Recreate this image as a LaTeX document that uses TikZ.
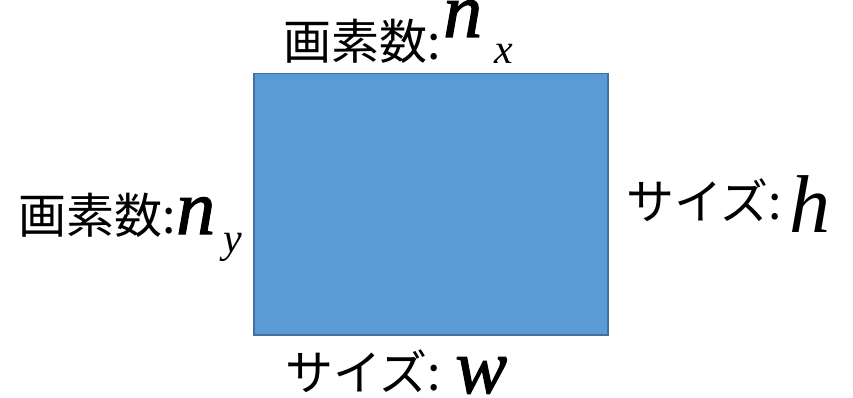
\documentclass[tikz,border=0pt]{standalone}
\usepackage{fontspec}
\newfontfamily\cjk{Noto Sans CJK JP}
\newfontfamily\mathserif{Liberation Serif}
\newfontfamily\mathserifb[FakeBold=1.4]{Liberation Serif}
\definecolor{boxfill}{HTML}{5B9BD5}
\definecolor{boxline}{HTML}{41719C}
\begin{document}
\begin{tikzpicture}[x=1pt,y=-1pt,
  lbl/.style={inner sep=0pt,anchor=base west},
  jp/.style={lbl,font=\cjk\fontsize{48}{48}\selectfont},
  bigvar/.style={lbl,font=\mathserifb\itshape\fontsize{78}{78}\selectfont},
  bigvarr/.style={lbl,font=\mathserif\itshape\fontsize{82}{82}\selectfont},
  subvar/.style={lbl,font=\mathserif\itshape\fontsize{42}{42}\selectfont}]
\useasboundingbox (0,0) rectangle (853,398);
\node[draw=boxline,fill=boxfill,line width=1.5pt,minimum width=354pt,minimum height=261pt,inner sep=0pt,anchor=north west] (box) at (253,73) {};
% top
\node[jp] (tj) at (283,60) {画素数:};
\node[bigvar] (tn) at (443,37) {n};
\node[subvar] (tx) at (494,64) {x};
% left
\node[jp] (lj) at (18,233) {画素数:};
\node[bigvar] (ln) at (176,234) {n};
\node[subvar] (ly) at (223,252) {y};
% right
\node[jp] (rj) at (626,219) {サイズ:};
\node[bigvarr] (rh) at (789,232) {h};
% bottom
\node[jp] (bj) at (285,390) {サイズ:};
\node[bigvar] (bw) at (455,393) {w};
\end{tikzpicture}
\end{document}
